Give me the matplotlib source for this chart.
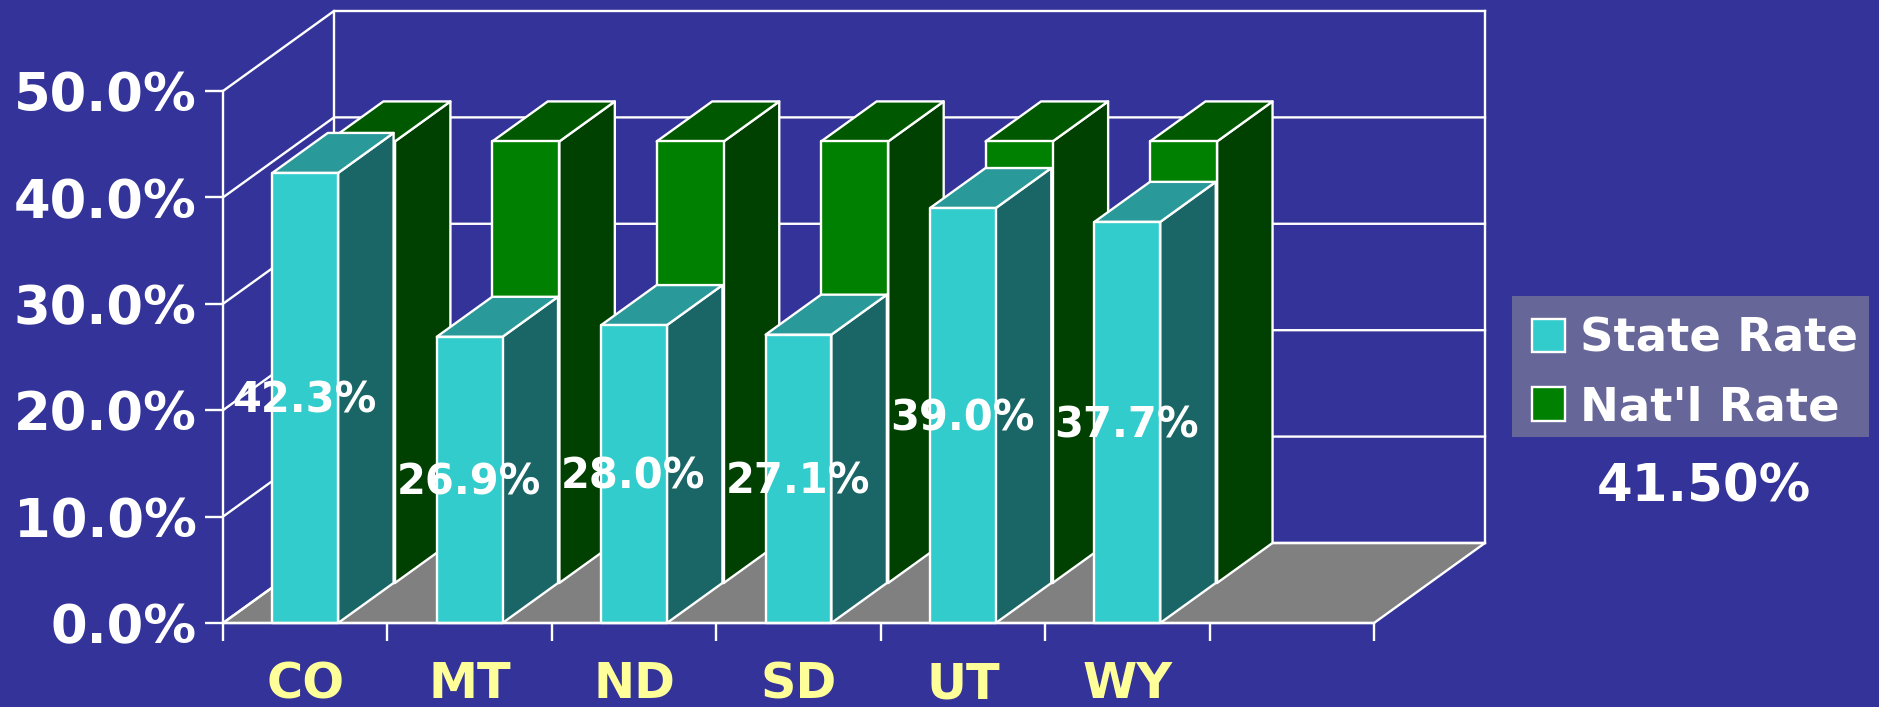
import matplotlib
matplotlib.use("Agg")
import matplotlib.pyplot as plt
from matplotlib.patches import Polygon, Patch, Rectangle

states = ["CO", "MT", "ND", "SD", "UT", "WY"]
state_rate = [42.3, 26.9, 28.0, 27.1, 39.0, 37.7]
natl_rate = [41.5, 41.5, 41.5, 41.5, 41.5, 41.5]
y_ticks = [0, 10, 20, 30, 40, 50]
n_slots = 7
natl_note = "41.50%"

BG = "#333399"
WHITE = "#FFFFFF"
YELLOW = "#FFFF99"
# front, side, top
STATE_COLS = ("#33CCCC", "#1A6666", "#299999")
NATL_COLS = ("#008000", "#004000", "#005800")

# 3d offset of the whole depth, in data units
DX = 0.675
DY = 7.52
BAR_OFF = 0.30
STATE_W = 0.40
NATL_W = 0.408
LW = 1.7


def poly(ax, pts, col, z):
    ax.add_patch(Polygon(pts, closed=True, facecolor=col, edgecolor=WHITE,
                         linewidth=LW, zorder=z, clip_on=False, joinstyle="round"))


# one box, d0 and d1 are the depth range as a fraction
def bar3d(ax, x, w, val, d0, d1, cols, z):
    x0 = x + d0 * DX
    x1 = x0 + w
    y0 = d0 * DY
    y1 = y0 + val
    ox = (d1 - d0) * DX
    oy = (d1 - d0) * DY
    poly(ax, [(x1, y0), (x1 + ox, y0 + oy), (x1 + ox, y1 + oy), (x1, y1)], cols[1], z)
    poly(ax, [(x0, y1), (x1, y1), (x1 + ox, y1 + oy), (x0 + ox, y1 + oy)], cols[2], z)
    poly(ax, [(x0, y0), (x1, y0), (x1, y1), (x0, y1)], cols[0], z)


fig = plt.figure(figsize=(18.79, 7.07), dpi=100, facecolor=BG)
ax = fig.add_axes([223 / 1879, 1 - 623 / 707, 1151 / 1879, 532 / 707], facecolor="none")
ax.set_xlim(0, n_slots)
ax.set_ylim(0, 50)

for s in ["top", "right"]:
    ax.spines[s].set_visible(False)
for s in ["left", "bottom"]:
    ax.spines[s].set_color(WHITE)
    ax.spines[s].set_linewidth(LW)
    ax.spines[s].set_zorder(8)

ax.set_yticks(y_ticks)
ax.set_yticklabels(["%.1f%%" % v for v in y_ticks], color=WHITE,
                   fontsize=38, fontweight="bold")
ax.tick_params(axis="y", length=13, width=LW, color=WHITE, pad=6)

ax.set_xticks(range(n_slots + 1))
ax.set_xticklabels([])
ax.set_xticks([i + 0.5 for i in range(len(states))], minor=True)
ax.set_xticklabels(states, minor=True, color=YELLOW, fontsize=35.5, fontweight="bold")
ax.tick_params(axis="x", which="major", length=13, width=LW, color=WHITE)
ax.tick_params(axis="x", which="minor", length=0, pad=27)

# floor
poly(ax, [(0, 0), (n_slots, 0), (n_slots + DX, DY), (DX, DY)], "#808080", 1)

# walls
for v in y_ticks:
    ax.plot([0, DX, n_slots + DX], [v, v + DY, v + DY], color=WHITE, lw=LW,
            zorder=2, clip_on=False)
for xb in [DX, n_slots + DX]:
    ax.plot([xb, xb], [DY, 50 + DY], color=WHITE, lw=LW, zorder=2, clip_on=False)

# back row first so the front row covers it
for i, v in enumerate(natl_rate):
    bar3d(ax, i + BAR_OFF, NATL_W, v, 0.5, 1.0, NATL_COLS, 3 + i * 0.01)
for i, v in enumerate(state_rate):
    bar3d(ax, i + BAR_OFF, STATE_W, v, 0.0, 0.5, STATE_COLS, 4 + i * 0.01)

for i, v in enumerate(state_rate):
    ax.annotate("%.1f%%" % v, (i + BAR_OFF + STATE_W / 2, v / 2), xytext=(-0.5, -2),
                textcoords="offset points", color=WHITE, fontsize=30, fontweight="bold",
                ha="center", va="center", zorder=10, annotation_clip=False)

# legend box drawn by hand, its padding is not even top and bottom
fig.add_artist(Rectangle((1512 / 1879, 1 - 437 / 707), 357 / 1879, 141 / 707,
                         transform=fig.transFigure, facecolor="#666699",
                         edgecolor="none", zorder=-1))
handles = [Patch(facecolor=STATE_COLS[0], edgecolor=WHITE, linewidth=LW, label="State Rate"),
           Patch(facecolor=NATL_COLS[0], edgecolor=WHITE, linewidth=LW, label="Nat'l Rate")]
leg = ax.legend(handles=handles, loc="upper left",
                bbox_to_anchor=(1512 / 1879, 1 - 297 / 707), bbox_transform=fig.transFigure,
                frameon=False, fontsize=33.5, handlelength=0.72, handleheight=0.72,
                handletextpad=0.32, labelspacing=0.51, borderpad=0.42, borderaxespad=0)
for t in leg.get_texts():
    t.set_color(WHITE)
    t.set_fontweight("bold")

fig.text(1704 / 1879, 1 - 488 / 707, natl_note, color=WHITE, fontsize=37,
         fontweight="bold", ha="center", va="center")

fig.savefig("out.png", dpi=100, facecolor=BG)
